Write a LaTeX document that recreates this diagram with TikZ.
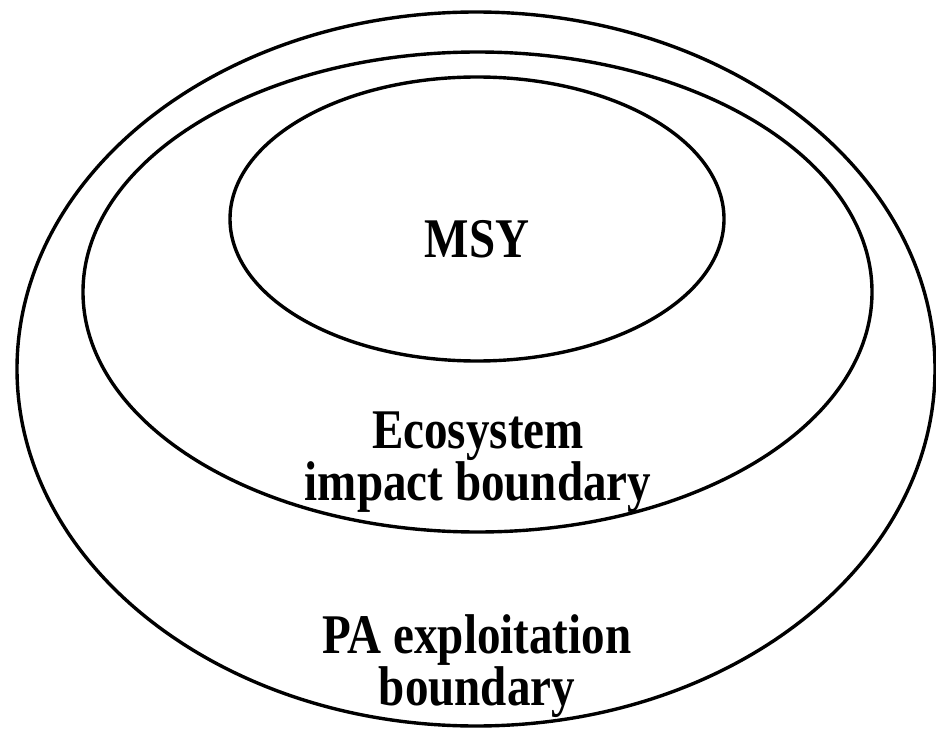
\documentclass[tikz,border=0pt]{standalone}
\usepackage{fontspec}
\newfontfamily\boldserif[FakeStretch=0.84]{Liberation Serif}
\usepackage{tikz}
\usetikzlibrary{positioning}

\begin{document}
\begin{tikzpicture}[
    x=1pt, y=-1pt,
    ring/.style={draw, line width=3.4pt, black},
    zone/.style={align=center, anchor=base, inner sep=0pt, font=\boldserif\fontsize{56}{46}\selectfont\bfseries}
]
\useasboundingbox (0,0) rectangle (936,735);

% Define the nested boundaries
\draw[ring] (476,369) ellipse [x radius=459pt, y radius=357pt];
\draw[ring] (477.5,292) ellipse [x radius=394.5pt, y radius=240pt];
\draw[ring] (477,219) ellipse [x radius=247pt, y radius=142pt];

% Add zone labels (base = last line)
\node[zone] (msy) at (477,257) {MSY};
\node[zone] (eco) at (478,500) {Ecosystem\\impact boundary};
\node[zone] (pa) at (477,705) {PA exploitation\\boundary};

\end{tikzpicture}
\end{document}
